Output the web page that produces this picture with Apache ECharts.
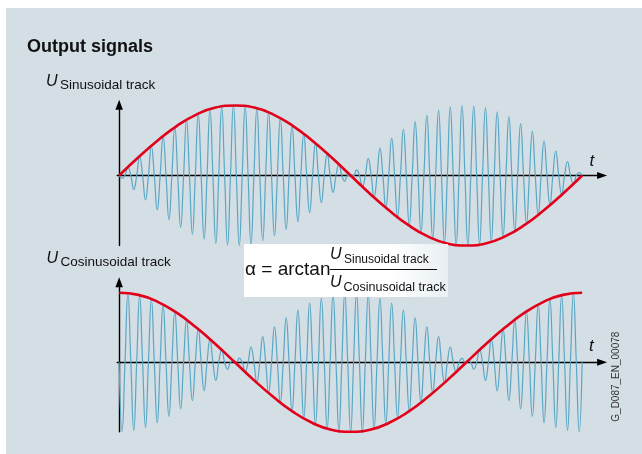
<!DOCTYPE html>
<html>
<head>
<meta charset="utf-8">
<script src="https://cdn.jsdelivr.net/npm/echarts@6/dist/echarts.min.js"></script>
<style>
  html, body { margin: 0; padding: 0; background: #ffffff; }
  #chart { width: 642px; height: 454px; }
</style>
</head>
<body>
<div id="chart"></div>
<script>
// Resolver output signals: one shared carrier, amplitude modulated by sin α and cos α.
// Signed carrier extremes over one full turn of α (0–360°), sine track.
const sinTrackPeaks = [
  -0.04, 0.12, -0.20, 0.27, -0.35, 0.42, -0.49, 0.56, -0.63, 0.69,
  -0.74, 0.79, -0.84, 0.88, -0.91, 0.94, -0.97, 0.98, -0.99, 1.00,
  -1.00, 0.99, -0.98, 0.96, -0.93, 0.90, -0.86, 0.82, -0.77, 0.71,
  -0.66, 0.59, -0.53, 0.46, -0.39, 0.31, -0.24, 0.16, -0.08, 0.00,
  0.08, -0.16, 0.24, -0.31, 0.39, -0.46, 0.53, -0.59, 0.66, -0.71,
  0.77, -0.82, 0.86, -0.90, 0.93, -0.96, 0.98, -0.99, 1.00, -1.00,
  0.99, -0.98, 0.97, -0.94, 0.91, -0.88, 0.84, -0.79, 0.74, -0.69,
  0.63, -0.56, 0.49, -0.42, 0.35, -0.27, 0.20, -0.12, 0.04
];

// Signed carrier extremes, cosine track.
const cosTrackPeaks = [
  -1.00, 0.99, -0.98, 0.96, -0.94, 0.91, -0.87, 0.83, -0.78, 0.73,
  -0.67, 0.61, -0.55, 0.48, -0.41, 0.33, -0.26, 0.18, -0.10, 0.02,
  0.06, -0.14, 0.22, -0.29, 0.37, -0.44, 0.51, -0.58, 0.64, -0.70,
  0.75, -0.80, 0.85, -0.89, 0.92, -0.95, 0.97, -0.99, 1.00, -1.00,
  1.00, -0.99, 0.97, -0.95, 0.92, -0.89, 0.85, -0.80, 0.75, -0.70,
  0.64, -0.58, 0.51, -0.44, 0.37, -0.29, 0.22, -0.14, 0.06, 0.02,
  -0.10, 0.18, -0.26, 0.33, -0.41, 0.48, -0.55, 0.61, -0.67, 0.73,
  -0.78, 0.83, -0.87, 0.91, -0.94, 0.96, -0.98, 0.99, -1.00
];

// Envelope samples every 15° of α.
const envelopeAngles = [
  0, 15, 30, 45, 60, 75, 90, 105, 120, 135, 150, 165, 180,
  195, 210, 225, 240, 255, 270, 285, 300, 315, 330, 345, 360
];
const sinEnvelope = [
  0, 0.26, 0.50, 0.71, 0.87, 0.97, 1.00, 0.97, 0.87, 0.71, 0.50, 0.26, 0,
  -0.26, -0.50, -0.71, -0.87, -0.97, -1.00, -0.97, -0.87, -0.71, -0.50, -0.26, 0
];
const cosEnvelope = [
  1.00, 0.97, 0.87, 0.71, 0.50, 0.26, 0, -0.26, -0.50, -0.71, -0.87, -0.97, -1.00,
  -0.97, -0.87, -0.71, -0.50, -0.26, 0, 0.26, 0.50, 0.71, 0.87, 0.97, 1.00
];

// Carrier trace: zero crossings between consecutive extremes, quarter-period steps.
function carrierTrace(peaks) {
  const steps = peaks.length * 2;
  const pts = [];
  for (let j = 0; j <= steps; j++) {
    pts.push([j * 360 / steps, j % 2 ? peaks[(j - 1) / 2] : 0]);
  }
  return pts;
}

function envelopeTrace(values) {
  return envelopeAngles.map((a, i) => [a, values[i]]);
}

const FONT = '"Liberation Sans", Arial, Helvetica, sans-serif';
const CARRIER = '#5aa7c4';
const ENVELOPE = '#e2001a';
const INK = '#111111';

const axisLineX = {
  show: true, onZero: true,
  symbol: ['none', 'triangle'], symbolSize: [7, 10],
  lineStyle: { color: '#000', width: 1.4 }
};
const axisLineY = {
  show: true, onZero: true,
  symbol: ['none', 'triangle'], symbolSize: [7.5, 10],
  lineStyle: { color: '#000', width: 1.4 }
};
const bare = {
  axisTick: { show: false }, axisLabel: { show: false }, splitLine: { show: false }
};

function txt(x, y, text, font, extra, rotation) {
  return {
    type: 'text', x: x, y: y, z: 50, rotation: rotation || 0, silent: true,
    style: Object.assign({
      text: text, font: font, fill: INK, align: 'left', verticalAlign: 'middle'
    }, extra || {})
  };
}

const chart = echarts.init(document.getElementById('chart'), null, { renderer: 'canvas' });

chart.setOption({
  animation: false,
  backgroundColor: 'transparent',
  grid: [
    { left: 117.2, width: 484.9, top: 104.8, height: 140.7 },
    { left: 117.2, width: 484.9, top: 282.3, height: 149.5 }
  ],
  xAxis: [
    Object.assign({ type: 'value', gridIndex: 0, min: -1.5, max: 375.5, axisLine: axisLineX }, bare),
    Object.assign({ type: 'value', gridIndex: 1, min: -1.5, max: 375.5, axisLine: axisLineX }, bare)
  ],
  yAxis: [
    Object.assign({ type: 'value', gridIndex: 0, min: -1, max: 1.01, axisLine: axisLineY }, bare),
    Object.assign({ type: 'value', gridIndex: 1, min: -1, max: 1.151, axisLine: axisLineY }, bare)
  ],
  series: [
    {
      name: 'U sin carrier', type: 'line', xAxisIndex: 0, yAxisIndex: 0,
      data: carrierTrace(sinTrackPeaks), smooth: true, showSymbol: false, clip: false,
      lineStyle: { color: CARRIER, width: 1.2 }, z: 2
    },
    {
      name: 'sin α', type: 'line', xAxisIndex: 0, yAxisIndex: 0,
      data: envelopeTrace(sinEnvelope), smooth: true, showSymbol: false, clip: false,
      lineStyle: { color: ENVELOPE, width: 2.6 }, z: 3
    },
    {
      name: 'U cos carrier', type: 'line', xAxisIndex: 1, yAxisIndex: 1,
      data: carrierTrace(cosTrackPeaks), smooth: true, showSymbol: false, clip: false,
      lineStyle: { color: CARRIER, width: 1.2 }, z: 2
    },
    {
      name: 'cos α', type: 'line', xAxisIndex: 1, yAxisIndex: 1,
      data: envelopeTrace(cosEnvelope), smooth: true, showSymbol: false, clip: false,
      lineStyle: { color: ENVELOPE, width: 2.6 }, z: 3
    }
  ],
  graphic: [
    { type: 'rect', z: -10, silent: true,
      shape: { x: 6, y: 8, width: 636, height: 446 },
      style: { fill: '#d4dee5' } },

    txt(27, 46.7, 'Output signals', 'bold 18px ' + FONT),

    txt(46, 81.4, 'U', 'italic 16px ' + FONT),
    txt(60, 84.8, 'Sinusoidal track', '13.5px ' + FONT),
    txt(46.5, 258.4, 'U', 'italic 16px ' + FONT),
    txt(60.5, 262.6, 'Cosinusoidal track', '13.5px ' + FONT),

    txt(589.5, 161, 't', 'italic 17px ' + FONT),
    txt(589, 346, 't', 'italic 17px ' + FONT),

    // formula panel
    { type: 'rect', z: 40, silent: true,
      shape: { x: 244, y: 244, width: 204, height: 53 },
      style: { fill: { type: 'linear', x: 0, y: 0, x2: 1, y2: 0,
        colorStops: [
          { offset: 0, color: '#ffffff' },
          { offset: 0.72, color: '#ffffff' },
          { offset: 1, color: '#e8eff3' }
        ] } } },
    txt(245, 270, 'α = arctan', '19px ' + FONT),
    txt(330, 254.4, 'U', 'italic 16px ' + FONT),
    txt(344, 259.8, 'Sinusoidal track', '12px ' + FONT),
    { type: 'line', z: 50, silent: true,
      shape: { x1: 330, y1: 269.5, x2: 437, y2: 269.5 },
      style: { stroke: INK, lineWidth: 1 } },
    txt(330, 282.7, 'U', 'italic 16px ' + FONT),
    txt(343.5, 287.3, 'Cosinusoidal track', '12.5px ' + FONT),

    // drawing number, read bottom to top
    txt(616, 421.7, 'G_D087_EN_00078', '10px ' + FONT, { fill: '#333333' }, Math.PI / 2)
  ]
});
</script>
</body>
</html>
